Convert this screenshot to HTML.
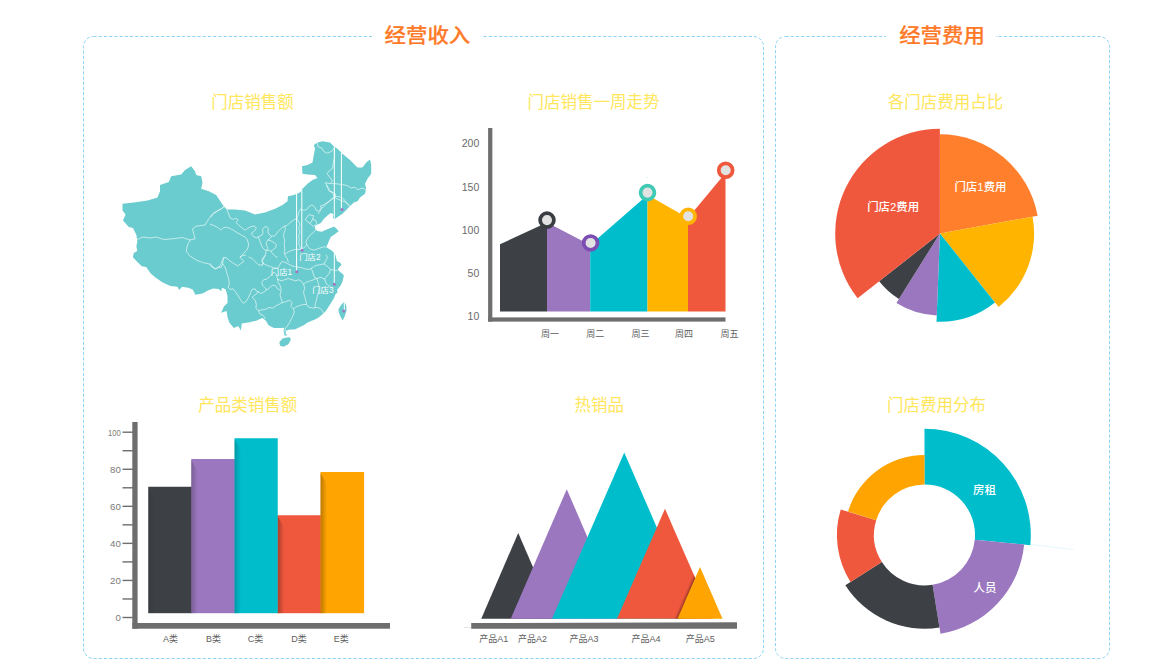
<!DOCTYPE html>
<html lang="zh-CN">
<head>
<meta charset="utf-8">
<title>经营看板</title>
<style>
html,body{margin:0;padding:0;background:#fff;}
body{width:1161px;height:672px;overflow:hidden;font-family:"Liberation Sans","Noto Sans CJK SC",sans-serif;}
svg{display:block;}
text{font-family:"Liberation Sans","Noto Sans CJK SC",sans-serif;}
.ttl{font-size:21.4px;font-weight:500;fill:#ff7a28;stroke:#ff7a28;stroke-width:.25px;text-anchor:middle;}
.sub{font-size:16.5px;fill:#ffe65c;text-anchor:middle;}
.ax{font-size:10.5px;fill:#6b6b6b;}
.axs{font-size:9px;fill:#5e5e5e;}
.ayl{font-size:9.7px;fill:#7a7a7a;}
.wl{font-size:11.45px;font-weight:500;fill:#fff;text-anchor:middle;}
.ml{font-size:8.4px;fill:#fff;}
</style>
</head>
<body>
<svg width="1161" height="672" viewBox="0 0 1161 672">
<defs>
<linearGradient id="sh" x1="0" y1="0" x2="1" y2="0"><stop offset="0" stop-color="#000" stop-opacity=".28"/><stop offset="1" stop-color="#000" stop-opacity="0"/></linearGradient>
<filter id="blur" x="-50%" y="-20%" width="200%" height="140%"><feGaussianBlur stdDeviation="1.3"/></filter>
</defs>
<rect width="1161" height="672" fill="#fff"/>

<g fill="none" stroke="#8fd3f5" stroke-width="1" stroke-dasharray="3.2 2">
<rect x="83.5" y="36.5" width="680" height="622" rx="10" ry="10"/>
<rect x="775.5" y="36.5" width="334" height="622" rx="10" ry="10"/>
</g>
<rect x="372" y="30" width="109" height="14" fill="#fff"/>
<rect x="886" y="30" width="110" height="14" fill="#fff"/>
<text class="ttl" transform="translate(427.4,42.9) scale(1,0.93)">经营收入</text>
<text class="ttl" transform="translate(942,42.9) scale(1,0.93)">经营费用</text>
<text class="sub" x="252.5" y="107.8">门店销售额</text>
<text class="sub" x="593.5" y="107.8">门店销售一周走势</text>
<text class="sub" x="945.4" y="107.8">各门店费用占比</text>
<text class="sub" x="247.8" y="410.8">产品类销售额</text>
<text class="sub" x="599.2" y="410.8">热销品</text>
<text class="sub" x="936.5" y="410.8">门店费用分布</text>
<g id="map">
<path d="M122.5,203.8 L133.8,202.5 L147.5,200.5 L157.5,197.5 L160.0,191.2 L160.0,185.0 L168.8,182.0 L171.2,176.2 L181.2,174.5 L185.0,170.0 L191.2,166.2 L195.0,171.2 L196.2,175.0 L201.2,176.2 L202.5,182.5 L201.2,188.8 L208.8,191.2 L216.2,195.0 L221.2,202.5 L223.8,206.2 L227.5,209.5 L235.0,209.5 L245.0,210.5 L255.0,214.5 L265.0,212.5 L275.0,208.8 L282.5,205.0 L287.5,201.2 L288.0,196.2 L293.8,195.0 L300.0,192.5 L302.5,188.8 L307.5,183.8 L312.5,180.0 L317.5,178.0 L315.0,175.0 L307.5,174.5 L302.5,173.8 L302.0,166.2 L307.5,165.0 L312.5,162.5 L313.8,155.0 L315.0,148.8 L313.8,145.0 L317.5,142.5 L322.5,141.2 L330.0,142.5 L333.8,146.2 L337.5,148.8 L342.5,153.8 L350.0,160.0 L357.5,167.5 L362.5,167.5 L366.2,162.5 L370.0,159.5 L371.2,165.0 L371.2,173.8 L367.5,178.8 L365.0,183.8 L366.2,188.8 L365.0,193.8 L360.0,197.5 L357.5,201.2 L353.8,202.5 L350.0,206.2 L346.2,210.0 L342.5,213.8 L338.8,216.2 L335.0,218.8 L334.3,220.2 L332.9,217.5 L333.4,213.9 L330.7,213.0 L327.1,215.7 L323.6,219.3 L320.9,222.9 L315.5,225.5 L314.6,228.2 L317.3,230.9 L321.8,231.8 L325.4,230.0 L329.8,228.2 L334.3,226.4 L338.8,231.2 L336.9,232.6 L334.5,234.4 L330.9,236.7 L329.1,240.6 L327.5,244.5 L326.2,246.9 L328.3,248.4 L331.3,250.3 L333.6,252.2 L335.2,254.6 L336.3,258.2 L336.9,260.9 L340.0,262.5 L341.6,264.8 L339.2,267.2 L337.7,269.5 L340.0,271.9 L342.3,273.4 L343.9,275.8 L343.1,278.9 L342.3,282.0 L340.8,285.2 L338.4,288.3 L336.9,290.6 L337.7,292.2 L335.3,294.5 L333.8,298.4 L331.9,301.6 L329.8,304.7 L327.5,308.6 L325.2,311.7 L322.0,314.8 L318.9,317.2 L315.0,319.5 L311.1,321.1 L307.2,322.7 L304.1,325.0 L299.4,327.3 L294.7,329.4 L290.3,329.6 L286.4,330.6 L285.5,333.5 L287.4,335.5 L284.5,335.5 L283.5,330.6 L284.5,327.7 L281.1,327.9 L273.9,327.9 L268.6,325.2 L265.9,320.7 L262.3,318.0 L256.1,320.7 L248.0,322.5 L241.8,323.4 L240.9,330.5 L238.2,326.1 L233.8,327.9 L229.3,322.5 L227.5,317.1 L226.6,310.9 L221.2,312.7 L223.9,306.4 L227.5,302.9 L227.5,295.7 L225.7,289.5 L222.1,287.7 L221.2,291.2 L218.6,289.1 L213.2,288.6 L207.9,290.4 L202.5,293.6 L195.4,294.8 L192.7,289.5 L188.2,287.7 L182.0,286.8 L179.3,290.0 L177.5,286.8 L170.4,285.9 L162.3,282.3 L156.1,277.9 L150.7,273.4 L146.2,267.1 L141.8,266.2 L136.4,260.9 L132.9,257.3 L133.8,252.9 L137.3,251.0 L136.4,246.6 L137.3,241.2 L136.4,235.0 L133.0,228.0 L128.8,226.9 L123.0,220.6 L125.6,214.4 L122.5,210.6 Z M279.3,342.3 L282.6,338.4 L289.4,337.0 L290.9,339.4 L288.4,344.2 L283.5,346.7 L280.1,345.7 Z M344.7,301.9 L346.2,305.5 L346.6,310.2 L345.0,315.6 L342.8,320.6 L340.8,317.2 L338.8,312.5 L338.4,309.4 L340.8,305.5 L343.1,302.8 Z" fill="#6accce"/>
<path d="M136.2,240.0 L142.5,237.0 L150.0,238.0 L156.2,237.0 L163.8,239.5 L172.5,238.8 L182.5,237.5 L190.0,240.0 L195.0,238.8 L193.8,233.8 L192.5,228.8 L196.2,226.2 L205.0,225.0 L208.8,218.8 L215.0,212.5 L221.2,208.8 L223.8,206.2 M190.0,240.0 L187.5,245.0 L186.2,251.2 L190.0,256.2 L196.2,260.0 L202.5,262.5 L208.8,263.8 L212.5,267.5 L216.2,268.8 L220.0,266.2 L222.5,260.0 L224.5,257.5 M224.5,206.7 L222.1,208.5 L217.2,210.9 L212.4,214.0 L210.0,217.0 M224.5,206.7 L226.9,209.7 L228.7,214.0 L229.9,217.6 L232.9,219.4 L235.9,218.2 L238.3,220.0 L235.9,222.4 L239.0,225.4 L242.6,228.4 L245.6,230.2 L247.4,228.4 L251.0,226.6 L254.0,226.0 L256.4,227.8 L254.6,230.8 L252.2,232.6 L251.6,234.5 L254.0,236.9 L256.4,237.8 L258.3,236.9 L261.9,235.1 L263.1,232.6 L262.5,229.6 L264.3,227.2 L266.7,226.6 L268.5,229.0 L267.9,232.0 L269.1,234.5 L271.5,236.3 L275.1,235.7 L277.6,232.0 L281.2,228.4 L284.8,226.0 L287.2,225.4 L290.2,222.4 L294.4,219.4 L296.9,218.8 L298.1,215.2 L299.3,210.9 L300.5,209.1 L303.5,210.3 L306.5,209.7 L308.9,206.7 L311.9,204.9 L314.9,207.3 L316.2,210.3 L318.6,210.9 L321.6,208.5 L320.4,206.1 L323.4,204.9 L326.4,203.1 L329.4,201.3 L331.8,199.5 L334.2,198.3 L335.5,196.5 L337.9,196.5 L340.3,197.1 L342.7,198.3 L345.1,200.7 L347.5,204.3 L350.0,206.7 M210.0,224.2 L213.6,225.4 L217.2,227.2 L220.9,230.2 L223.3,227.8 L226.9,227.2 L231.1,229.0 L234.1,230.8 L237.1,232.6 L241.4,235.1 L245.0,236.9 L247.4,239.9 L248.6,244.1 L248.0,247.7 L246.2,250.7 L243.8,253.2 L241.4,255.6 L239.6,257.4 M258.3,236.9 L259.5,239.9 L260.7,243.5 L261.9,246.5 L263.7,248.9 L266.1,250.7 L267.9,248.3 L266.7,245.3 L266.1,242.3 L267.9,239.9 L270.3,238.1 L271.5,236.3 M267.9,239.9 L271.5,241.1 L274.5,242.9 L276.3,244.7 L275.7,247.7 L273.3,249.5 L270.9,251.3 L269.1,250.1 L266.1,250.7 L265.5,254.4 L264.3,257.4 L262.5,260.4 L263.1,263.4 L261.9,266.1 M270.9,251.3 L272.7,253.8 L275.1,256.2 L277.6,257.4 M284.8,226.0 L285.4,229.6 L283.8,233.3 L283.6,236.9 L284.8,240.5 L284.2,244.7 L284.8,248.9 L284.2,252.6 L285.4,256.2 L287.2,258.6 L288.4,262.2 M296.9,218.8 L298.7,221.2 L299.9,224.8 L298.7,228.4 L299.9,232.0 L298.7,235.7 L299.3,239.3 L298.7,242.9 L299.9,246.5 L300.5,249.5 M284.8,253.8 L289.6,251.3 L294.4,249.5 L300.5,249.5 L304.1,247.7 L306.5,245.3 L307.1,244.1 M316.2,229.6 L313.7,232.0 L310.7,234.5 L307.7,238.1 L305.9,241.7 L306.5,244.1 L307.7,246.5 L310.1,248.9 L313.7,250.1 L317.4,248.9 L321.0,247.7 L324.6,246.5 L325.8,247.7 M308.9,214.6 L313.7,215.8 L312.5,219.4 L310.1,223.6 L305.3,220.0 L307.1,217.0 L308.9,214.6 M312.5,219.4 L315.5,220.0 L316.8,223.6 L313.7,226.6 L311.3,224.8 L310.1,223.6 M326.4,185.0 L328.8,188.6 L330.0,191.6 L333.0,192.2 L335.5,194.0 L335.5,196.5 M223.3,257.4 L222.7,264.0 L225.1,267.1 L226.9,273.1 L228.7,279.1 L229.3,284.0 L228.1,287.0 L229.9,289.4 L232.9,288.8 L235.9,292.4 L238.3,296.0 L240.8,300.2 L243.2,303.3 L246.2,301.4 L248.6,297.2 L250.4,293.0 L252.2,289.4 L255.2,288.8 L256.4,291.2 L258.9,291.8 L260.7,293.6 L263.1,292.4 L266.7,290.0 L264.9,287.6 L262.5,285.2 L261.9,282.1 L263.7,279.7 L266.7,279.1 L270.3,276.1 L272.7,273.7 L273.9,271.9 M210.0,263.4 L213.0,267.1 L215.4,268.9 L218.4,267.1 L220.9,267.7 L222.7,264.0 M223.3,257.4 L226.9,258.0 L229.9,261.0 L233.5,263.4 L237.7,265.9 L240.2,264.0 L243.8,261.6 L242.0,259.2 L240.2,257.4 L242.6,255.6 L246.2,255.0 M248.6,256.8 L252.2,258.6 L255.8,262.2 L258.3,264.7 L261.3,265.3 L263.1,263.4 L261.9,260.4 L263.1,257.4 L265.5,255.0 M263.1,263.4 L266.7,265.3 L270.3,266.5 L273.9,267.7 L277.6,268.3 L279.4,265.3 L281.2,262.2 L283.6,261.6 L287.2,263.4 L290.8,265.3 L294.4,266.5 L298.1,267.1 L301.7,267.7 L305.3,268.9 L308.9,269.5 L311.3,268.3 L313.1,273.1 L314.3,277.3 L316.8,278.5 M273.9,271.9 L276.3,274.3 L277.6,279.1 L281.2,280.9 L284.8,279.7 L288.4,278.5 L292.0,279.7 L295.6,280.9 L298.7,279.7 L301.7,281.5 L303.5,284.0 L306.5,282.1 L310.1,280.9 L313.7,279.7 L316.8,278.5 L321.0,277.3 L324.6,279.1 L325.8,282.7 L327.6,285.2 L330.6,286.6 M277.6,279.1 L278.2,282.7 L280.0,285.2 L281.2,290.0 L280.0,294.8 L281.2,299.0 L282.4,302.6 L286.6,301.4 L289.6,300.2 L292.0,302.6 L290.8,306.3 L293.2,308.7 L296.2,306.9 L299.3,305.7 L302.9,304.5 L306.5,304.5 L308.3,306.9 L312.5,308.1 L316.2,307.5 L319.8,308.1 L322.2,310.5 L323.4,312.9 M303.5,284.0 L304.7,288.2 L303.5,292.4 L304.7,296.6 L305.9,300.8 L306.5,304.5 M258.9,291.8 L255.2,294.8 L252.2,297.2 L255.2,300.2 L256.4,304.5 L255.8,308.1 L258.3,310.5 L261.9,309.9 L265.5,309.3 L269.1,307.5 L272.7,308.1 L276.3,305.7 L280.0,303.9 L282.4,302.6 M266.7,290.0 L270.3,287.0 L272.7,285.2 L275.7,285.8 L277.6,288.8 L280.0,290.0 M258.3,310.5 L260.1,314.1 L263.1,315.3 L264.9,317.7 L263.1,320.1 M293.2,308.7 L294.4,311.7 L293.2,315.3 L291.4,318.9 L289.6,322.6 L287.2,326.2 L285.4,328.6 L284.8,332.2 M316.8,278.5 L318.6,284.0 L319.2,288.8 L318.0,293.6 L316.8,298.4 L315.5,303.3 L314.9,307.5 M324.0,264.0 L327.6,266.5 L330.6,269.5 L329.4,273.1 L326.4,276.7 L324.6,279.1 M330.6,269.5 L334.2,270.1 L337.9,270.7 M311.3,268.3 L314.9,265.9 L319.2,264.7 L324.0,264.0 L325.8,260.4 L327.6,257.4 L325.8,255.0 M317.3,142.5 L318.2,147.0 L321.8,147.9 L323.6,151.4 L327.1,153.2 L331.6,151.4 L334.3,147.9 L334.6,156.8 L333.4,163.0 L332.5,168.4 L328.9,171.1 L327.1,173.8 L329.8,177.3 L332.5,180.9 L329.8,183.6 L325.4,182.7 L327.1,186.2 L328.9,190.7 L332.5,192.5 L334.3,197.0 L337.0,198.8 L341.4,200.5 L345.9,202.3 L349.5,205.0 L350.4,205.9 M329.8,183.6 L335.2,183.6 L341.4,184.5 L346.8,185.4 L351.2,188.0 L354.8,187.1 L357.5,189.8 L362.0,188.0 L364.6,188.9 L366.4,190.7 M334.3,197.0 L330.7,199.6 L327.1,203.2 L323.6,206.8 L320.9,208.6 L320.0,211.2 L318.2,213.9" fill="none" stroke="#fff" stroke-opacity=".75" stroke-width=".8" stroke-linejoin="round"/>
<line x1="296.6" y1="192" x2="296.6" y2="272" stroke="#fff" stroke-width="1"/>
<line x1="301.8" y1="190" x2="301.8" y2="250.3" stroke="#fff" stroke-width="1"/>
<line x1="334.3" y1="146.5" x2="334.3" y2="226.5" stroke="#fff" stroke-width="1"/>
<line x1="334.3" y1="251" x2="334.3" y2="284.2" stroke="#fff" stroke-width="1"/>
<line x1="341.4" y1="152.8" x2="341.4" y2="209.5" stroke="#fff" stroke-width="1"/>
<line x1="344.3" y1="302" x2="344.3" y2="311" stroke="#fff" stroke-width="1"/>
<circle cx="302.1" cy="250.3" r="1.5" fill="#a274c4"/>
<circle cx="296.9" cy="271.8" r="1.5" fill="#a274c4"/>
<circle cx="334.3" cy="284.2" r="1.5" fill="#a274c4"/>
<circle cx="343.7" cy="310.9" r="1.5" fill="#a274c4"/>
<circle cx="342" cy="209.5" r="1.5" fill="#a274c4"/>
<text class="ml" x="270.8" y="275.2">门店1</text>
<text class="ml" x="299.2" y="260.4">门店2</text>
<text class="ml" x="312.2" y="293.4">门店3</text>
</g>
<g id="area">
<polygon points="500.0,311.4 500.0,244.3 547.0,222.5 547.0,311.4" fill="#3d4045"/>
<polygon points="547.0,311.4 547.0,222.5 590.2,245 590.2,311.4" fill="#9b77bf"/>
<polygon points="590.2,311.4 590.2,245 647.5,195 647.5,311.4" fill="#00bdcc"/>
<polygon points="647.5,311.4 647.5,195 688,218 688,311.4" fill="#ffb400"/>
<polygon points="688,311.4 688,218 725.5,173 725.5,311.4" fill="#f0583e"/>
<rect x="488.1" y="128" width="4.25" height="193.6" fill="#6e6e6e"/>
<rect x="488.1" y="317.4" width="237.4" height="4.2" fill="#6e6e6e"/>
<circle cx="547.0" cy="220.1" r="6.9" fill="#e2e2e2" stroke="#3a3d42" stroke-width="3.75"/>
<circle cx="590.6" cy="242.9" r="6.9" fill="#e2e2e2" stroke="#7c4db3" stroke-width="3.75"/>
<circle cx="647.5" cy="192.6" r="6.9" fill="#e2e2e2" stroke="#3ec9b4" stroke-width="3.75"/>
<circle cx="688.2" cy="216.3" r="6.9" fill="#e2e2e2" stroke="#ffb400" stroke-width="3.75"/>
<circle cx="725.7" cy="170.3" r="6.9" fill="#e2e2e2" stroke="#f0583e" stroke-width="3.75"/>
<text class="ax" x="479.3" y="147.2" text-anchor="end">200</text>
<text class="ax" x="479.3" y="190.8" text-anchor="end">150</text>
<text class="ax" x="479.3" y="233.8" text-anchor="end">100</text>
<text class="ax" x="479.3" y="277.2" text-anchor="end">50</text>
<text class="ax" x="479.3" y="320.2" text-anchor="end">10</text>
<text class="axs" x="550" y="337.2" text-anchor="middle">周一</text>
<text class="axs" x="595.3" y="337.2" text-anchor="middle">周二</text>
<text class="axs" x="640.6" y="337.2" text-anchor="middle">周三</text>
<text class="axs" x="684" y="337.2" text-anchor="middle">周四</text>
<text class="axs" x="729.4" y="337.2" text-anchor="middle">周五</text>
<rect x="646" y="177.2" width="1.6" height="0.7" fill="#c4f0f4"/>
</g>
<g id="bars">
<rect x="320.50" y="472" width="43.60" height="141.20" fill="#ffa400"/>
<rect x="319.90" y="515.25" width="1.2" height="97.95" fill="#ffa400"/>
<polygon points="320.50,473 327.00,484 327.00,613.2 320.50,613.2" fill="url(#sh)" opacity="0.95"/>
<rect x="277.75" y="515.25" width="42.75" height="97.95" fill="#f0583e"/>
<rect x="277.15" y="515.25" width="1.2" height="97.95" fill="#f0583e"/>
<polygon points="277.75,516.25 284.25,527.25 284.25,613.2 277.75,613.2" fill="url(#sh)" opacity="1"/>
<rect x="234.50" y="438.25" width="43.25" height="174.95" fill="#00bdcc"/>
<rect x="233.90" y="459" width="1.2" height="154.20" fill="#00bdcc"/>
<polygon points="234.50,439.25 241.00,450.25 241.00,613.2 234.50,613.2" fill="url(#sh)" opacity="0.7"/>
<rect x="191.25" y="459" width="43.25" height="154.20" fill="#9b77bf"/>
<rect x="190.65" y="486.75" width="1.2" height="126.45" fill="#9b77bf"/>
<polygon points="191.25,460 197.75,471 197.75,613.2 191.25,613.2" fill="url(#sh)" opacity="0.75"/>
<rect x="148.25" y="486.75" width="43.00" height="126.45" fill="#3d4045"/>
<polygon points="148.25,487.75 154.75,498.75 154.75,613.2 148.25,613.2" fill="url(#sh)" opacity="0.3"/>
<rect x="132.3" y="422" width="5.3" height="206.7" fill="#6e6e6e"/>
<rect x="132.5" y="623" width="257.5" height="5.7" fill="#6e6e6e"/>
<rect x="122.5" y="431.50" width="10.5" height="1.4" fill="#6e6e6e"/>
<rect x="122.5" y="450.03" width="10.5" height="1.4" fill="#6e6e6e"/>
<rect x="122.5" y="468.56" width="10.5" height="1.4" fill="#6e6e6e"/>
<rect x="122.5" y="487.09" width="10.5" height="1.4" fill="#6e6e6e"/>
<rect x="122.5" y="505.62" width="10.5" height="1.4" fill="#6e6e6e"/>
<rect x="122.5" y="524.15" width="10.5" height="1.4" fill="#6e6e6e"/>
<rect x="122.5" y="542.68" width="10.5" height="1.4" fill="#6e6e6e"/>
<rect x="122.5" y="561.21" width="10.5" height="1.4" fill="#6e6e6e"/>
<rect x="122.5" y="579.74" width="10.5" height="1.4" fill="#6e6e6e"/>
<rect x="122.5" y="598.27" width="10.5" height="1.4" fill="#6e6e6e"/>
<rect x="122.5" y="616.80" width="10.5" height="1.4" fill="#6e6e6e"/>
<text class="ayl" x="120.8" y="435.60" text-anchor="end" textLength="12.8" lengthAdjust="spacingAndGlyphs">100</text>
<text class="ayl" x="120.8" y="472.66" text-anchor="end">80</text>
<text class="ayl" x="120.8" y="509.72" text-anchor="end">60</text>
<text class="ayl" x="120.8" y="546.78" text-anchor="end">40</text>
<text class="ayl" x="120.8" y="583.84" text-anchor="end">20</text>
<text class="ayl" x="120.8" y="620.90" text-anchor="end">0</text>
<text class="axs" x="170.5" y="642.1" text-anchor="middle">A类</text>
<text class="axs" x="213.4" y="642.1" text-anchor="middle">B类</text>
<text class="axs" x="255.5" y="642.1" text-anchor="middle">C类</text>
<text class="axs" x="298.9" y="642.1" text-anchor="middle">D类</text>
<text class="axs" x="341.3" y="642.1" text-anchor="middle">E类</text>
</g>
<g id="tri">
<polygon points="481.25,618.75 518.25,533 555.25,618.75" fill="#3d4045"/>
<polygon points="510.75,618.75 566.75,489.25 622.75,618.75" fill="#9b77bf"/>
<polygon points="552,618.75 624.25,452.5 696.5,618.75" fill="#00bdcc"/>
<polygon points="617,618.75 665,508.75 713,618.75" fill="#f0583e"/>
<clipPath id="redclip"><polygon points="617,618.75 665,508.75 713,618.75"/></clipPath>
<g clip-path="url(#redclip)"><polygon points="674.5,621.75 697.5,569 701,573 681,621.75" fill="#000" fill-opacity=".38" filter="url(#blur)"/></g>
<polygon points="677.5,618.75 700,567 722.5,618.75" fill="#ffa400"/>
<polygon points="471.2,623.1 737,622.2 737,628.7 471.2,628.7" fill="#6e6e6e"/>
<line x1="464" y1="627.4" x2="471.2" y2="627.4" stroke="#dcdcdc" stroke-width="0.8"/>
<text class="axs" x="493.8" y="642.1" text-anchor="middle">产品A1</text>
<text class="axs" x="532.6" y="642.1" text-anchor="middle">产品A2</text>
<text class="axs" x="584.1" y="642.1" text-anchor="middle">产品A3</text>
<text class="axs" x="646" y="642.1" text-anchor="middle">产品A4</text>
<text class="axs" x="700.2" y="642.1" text-anchor="middle">产品A5</text>
</g>
<g id="pie">
<path d="M939.90,233.50 L939.90,134.20 A99.30,99.30 0 0 1 1037.60,215.74 Z" fill="#ff7f2d"/>
<path d="M939.90,233.50 L1032.58,216.66 A94.20,94.20 0 0 1 998.67,307.12 Z" fill="#ffb400"/>
<path d="M939.90,233.50 L994.93,302.43 A88.20,88.20 0 0 1 936.51,321.63 Z" fill="#00bdcc"/>
<path d="M939.90,233.50 L936.75,315.44 A82.00,82.00 0 0 1 896.45,303.04 Z" fill="#9b77bf"/>
<path d="M939.90,233.50 L898.94,299.05 A77.30,77.30 0 0 1 879.15,281.30 Z" fill="#3d4045"/>
<path d="M939.90,233.50 L857.62,298.25 A104.70,104.70 0 0 1 939.90,128.80 Z" fill="#f0583e"/>
<text class="wl" x="980.5" y="191.3">门店1费用</text>
<text class="wl" x="893.2" y="211">门店2费用</text>
</g>
<g id="donut">
<line x1="1030.5" y1="544.5" x2="1073.5" y2="549.5" stroke="#e6f9fb" stroke-width="1"/>
<path d="M924.50,428.70 A106.30,106.30 0 0 1 1030.31,545.19 L974.77,539.84 A50.50,50.50 0 0 0 924.50,484.50 Z" fill="#00bdcc"/>
<path d="M1024.14,544.59 A100.10,100.10 0 0 1 940.50,633.81 L932.57,584.85 A50.50,50.50 0 0 0 974.77,539.84 Z" fill="#9b77bf"/>
<path d="M939.48,627.49 A93.70,93.70 0 0 1 845.39,585.21 L881.86,562.06 A50.50,50.50 0 0 0 932.57,584.85 Z" fill="#3d4045"/>
<path d="M850.54,581.94 A87.60,87.60 0 0 1 840.73,509.39 L876.21,520.24 A50.50,50.50 0 0 0 881.86,562.06 Z" fill="#f0583e"/>
<path d="M848.00,511.61 A80.00,80.00 0 0 1 924.50,455.00 L924.50,484.50 A50.50,50.50 0 0 0 876.21,520.24 Z" fill="#ffa400"/>
<text class="wl" x="984.5" y="493.7">房租</text>
<text class="wl" x="985" y="592.2">人员</text>
</g>
</svg>
</body>
</html>
